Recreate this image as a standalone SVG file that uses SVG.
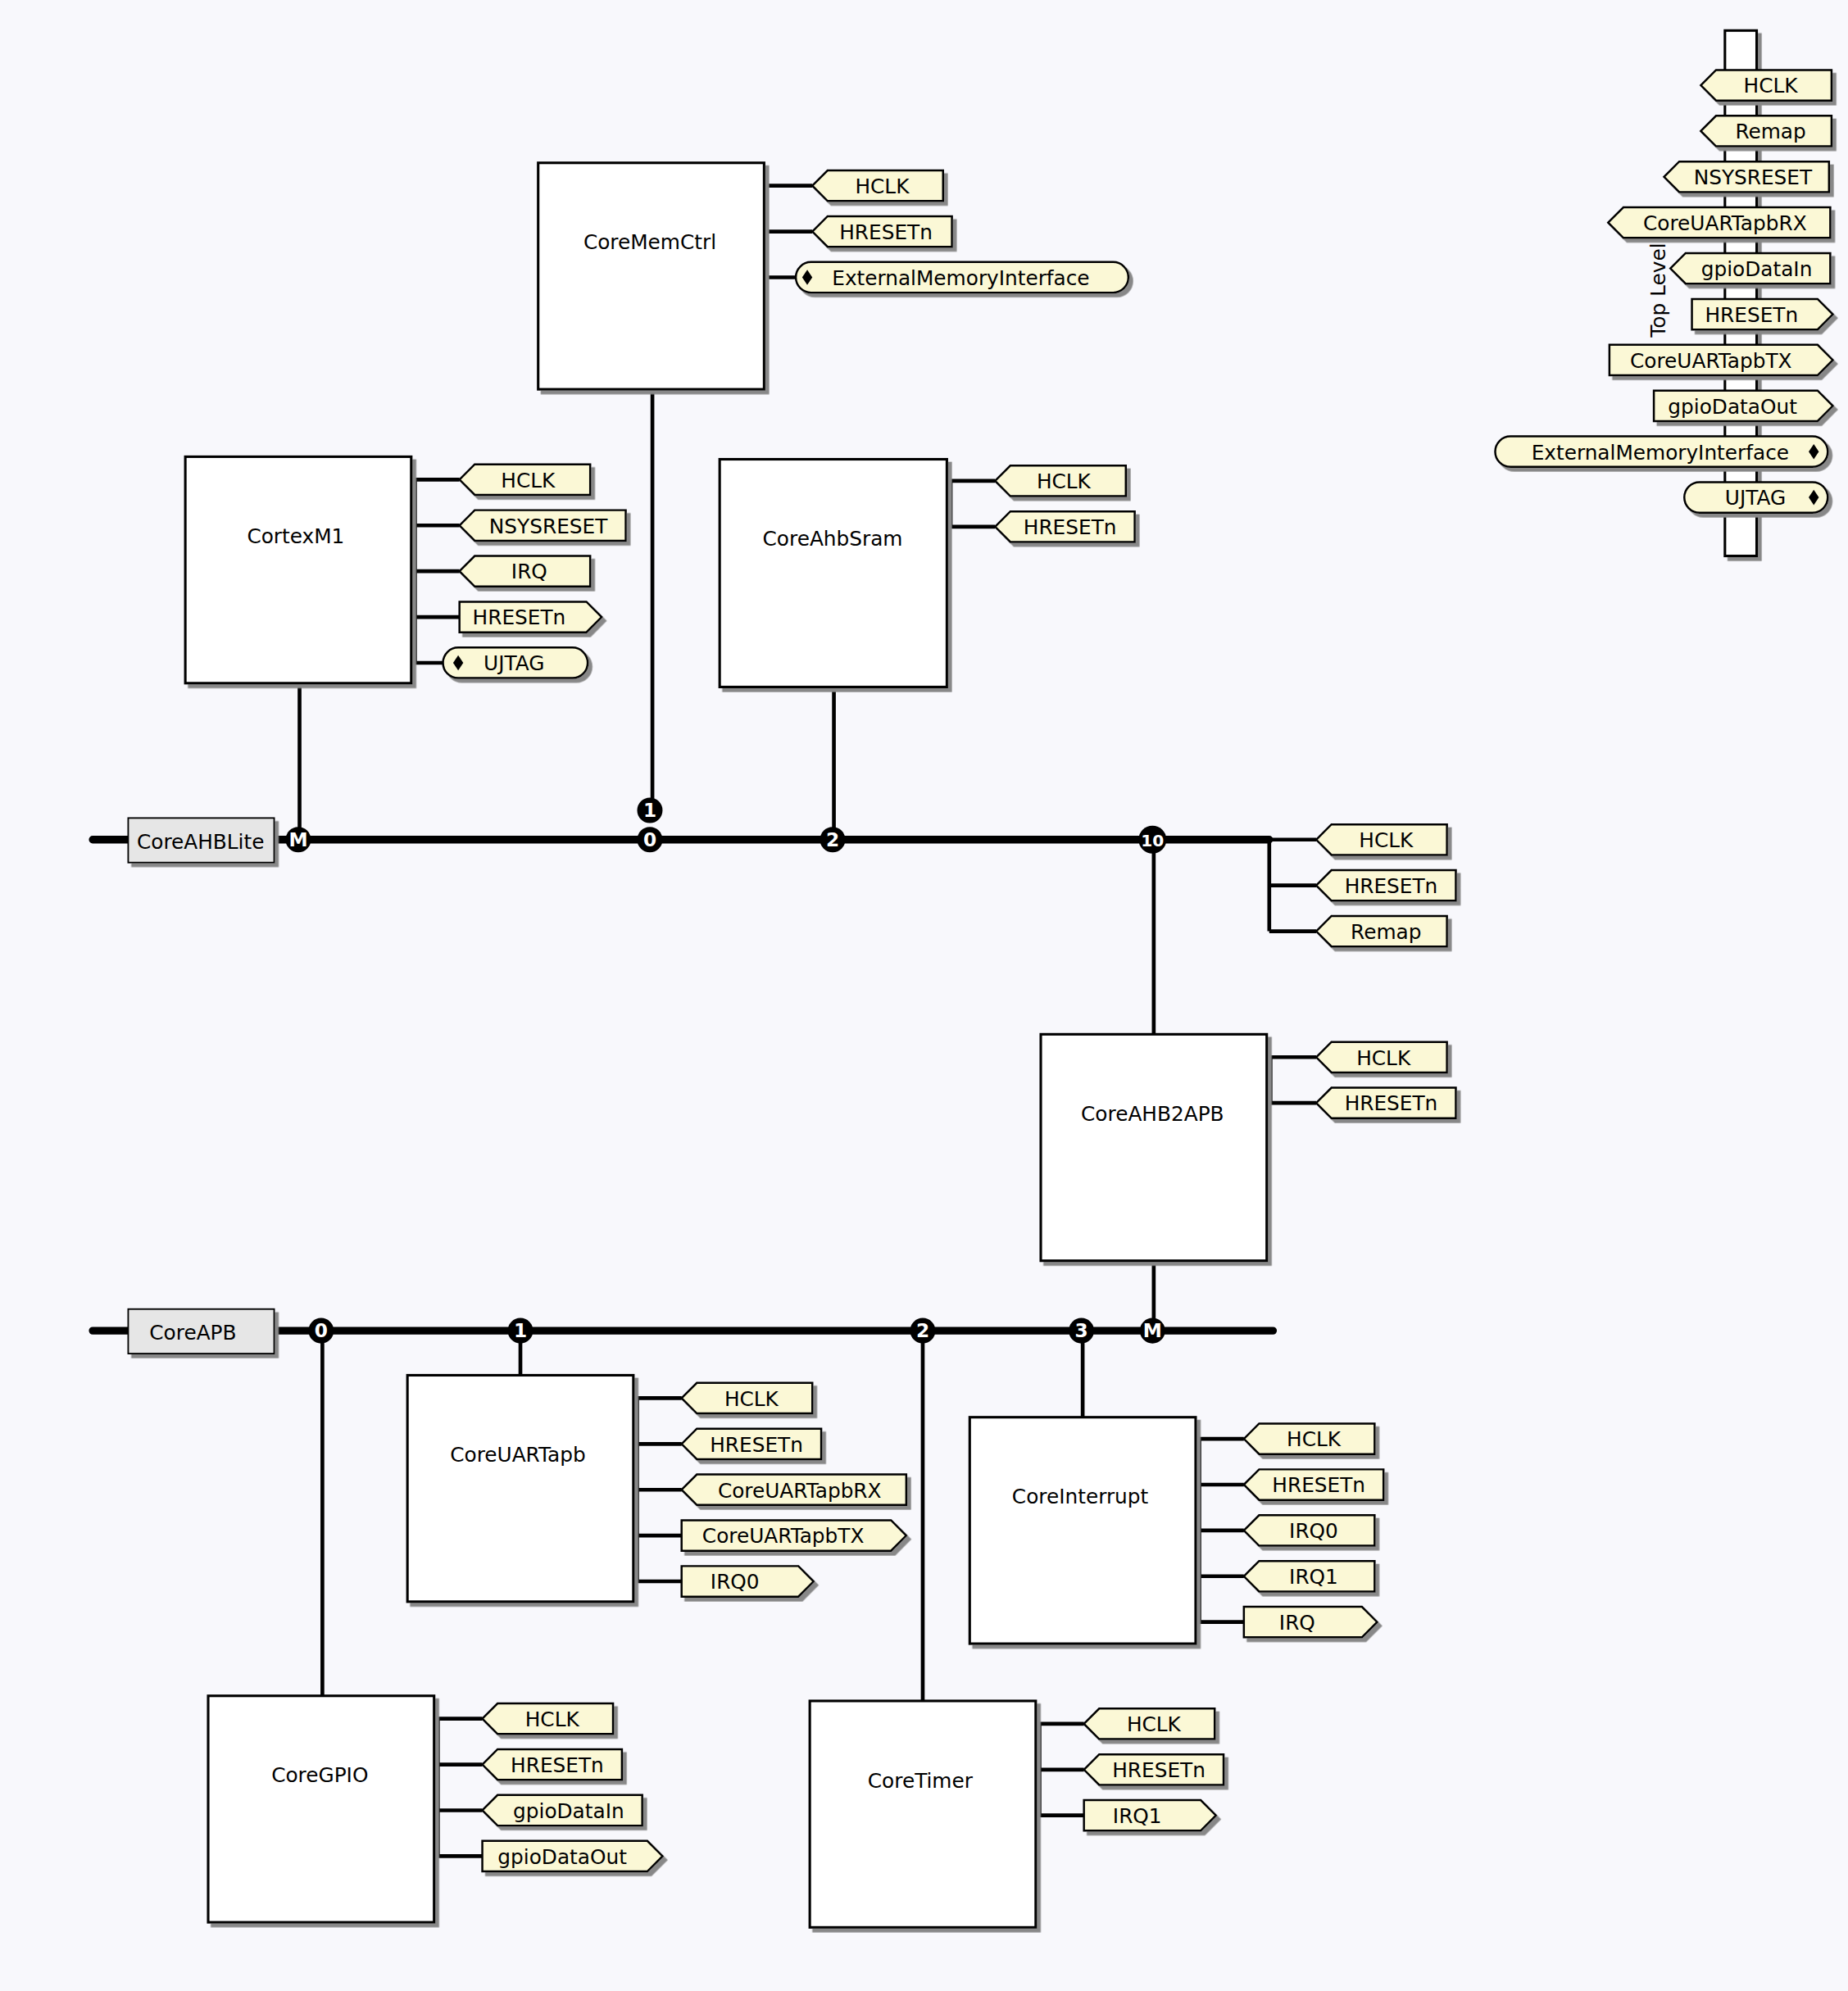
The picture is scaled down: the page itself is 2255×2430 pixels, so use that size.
<svg xmlns="http://www.w3.org/2000/svg" width="2255" height="2430" viewBox="0 0 2255 2430">
<defs>
<filter id="sh" x="-10%" y="-10%" width="130%" height="150%"><feDropShadow dx="3" dy="3" stdDeviation="0" flood-color="#888"/></filter>
</defs>
<style>
.bx{fill:#fff;stroke:#000;stroke-width:2;filter:url(#sh)}
.tg{fill:#fbf8d6;stroke:#000;stroke-width:1.6;filter:url(#sh)}
.lb{fill:#e6e6e6;stroke:#000;stroke-width:1.2;filter:url(#sh)}
.t{font-family:"DejaVu Sans",sans-serif;font-size:16px;fill:#000;text-anchor:middle}
.n{font-family:"DejaVu Sans",sans-serif;font-size:15px;fill:#fff;text-anchor:middle;font-weight:bold}
.w{stroke:#000;stroke-width:3;fill:none}
.bus{stroke:#000;stroke-width:6;fill:none;stroke-linecap:round}
</style>
<rect width="2255" height="2430" fill="#f8f8fc"/>
<g transform="scale(1.5488 1.5527)">
<g id="connectors">
<path class="bus" d="M73 660H1000M73 1046H1003"/>
<path class="w" d="M236 537V660M514 306V637M657 540V660M909 660V813M254 1046V1333M410 1046V1081M727 1046V1337M853 1046V1114M909 991V1046"/>
<path class="w" d="M604 146V218M604 146H640M604 182H640M604 218H627"/>
<path class="w" d="M327 377V521M327 377H362M327 413H362M327 449H362M327 485H362M327 521H349"/>
<path class="w" d="M749 378V414M749 378H784M749 414H784"/>
<path class="w" d="M1000 660V732M1000 660H1037M1000 696H1037M1000 732H1037"/>
<path class="w" d="M1001 831V867M1001 831H1037M1001 867H1037"/>
<path class="w" d="M502 1099V1243M502 1099H537M502 1135H537M502 1171H537M502 1207H537M502 1243H537"/>
<path class="w" d="M945 1131V1275M945 1131H980M945 1167H980M945 1203H980M945 1239H980M945 1275H980"/>
<path class="w" d="M345 1351V1459M345 1351H380M345 1387H380M345 1423H380M345 1459H380"/>
<path class="w" d="M819 1355V1427M819 1355H854M819 1391H854M819 1427H854"/>
</g>
<g id="CoreAHBLite"><rect class="lb" x="101" y="643" width="115" height="35"/><text class="t" x="158" y="667">CoreAHBLite</text>
<circle cx="235" cy="660" r="10"/><text class="n" x="235" y="665">M</text>
<circle cx="512" cy="637" r="10"/><text class="n" x="512" y="642">1</text>
<circle cx="512" cy="660" r="10"/><text class="n" x="512" y="665">0</text>
<circle cx="656" cy="660" r="10"/><text class="n" x="656" y="665">2</text>
<circle cx="908" cy="660" r="11"/><text class="n" x="908" y="665" style="font-size:13px">10</text>
<polygon class="tg" points="1037,660 1049,648 1140,648 1140,672 1049,672"/><text class="t" x="1092" y="666">HCLK</text>
<polygon class="tg" points="1037,696 1049,684 1147,684 1147,708 1049,708"/><text class="t" x="1096" y="702">HRESETn</text>
<polygon class="tg" points="1037,732 1049,720 1140,720 1140,744 1049,744"/><text class="t" x="1092" y="738">Remap</text>
</g>
<g id="CoreAPB"><rect class="lb" x="101" y="1029" width="115" height="35"/><text class="t" x="152" y="1053">CoreAPB</text>
<circle cx="253" cy="1046" r="10"/><text class="n" x="253" y="1051">0</text>
<circle cx="410" cy="1046" r="10"/><text class="n" x="410" y="1051">1</text>
<circle cx="727" cy="1046" r="10"/><text class="n" x="727" y="1051">2</text>
<circle cx="852" cy="1046" r="10"/><text class="n" x="852" y="1051">3</text>
<circle cx="908" cy="1046" r="10"/><text class="n" x="908" y="1051">M</text>
</g>
<g id="CoreMemCtrl"><rect class="bx" x="424" y="128" width="178" height="178"/><text class="t" x="512" y="196">CoreMemCtrl</text>
<polygon class="tg" points="640,146 652,134 743,134 743,158 652,158"/><text class="t" x="695" y="152">HCLK</text>
<polygon class="tg" points="640,182 652,170 750,170 750,194 652,194"/><text class="t" x="698" y="188">HRESETn</text>
<rect class="tg" x="627" y="206" width="262" height="24" rx="12"/><path d="M636 212l4 6-4 6-4-6z"/><text class="t" x="757" y="224">ExternalMemoryInterface</text>
</g>
<g id="CortexM1"><rect class="bx" x="146" y="359" width="178" height="178"/><text class="t" x="233" y="427">CortexM1</text>
<polygon class="tg" points="362,377 374,365 465,365 465,389 374,389"/><text class="t" x="416" y="383">HCLK</text>
<polygon class="tg" points="362,413 374,401 493,401 493,425 374,425"/><text class="t" x="432" y="419">NSYSRESET</text>
<polygon class="tg" points="362,449 374,437 465,437 465,461 374,461"/><text class="t" x="417" y="455">IRQ</text>
<polygon class="tg" points="362,473 462,473 474,485 462,497 362,497"/><text class="t" x="409" y="491">HRESETn</text>
<rect class="tg" x="349" y="509" width="114" height="24" rx="12"/><path d="M361 515l4 6-4 6-4-6z"/><text class="t" x="405" y="527">UJTAG</text>
</g>
<g id="CoreAhbSram"><rect class="bx" x="567" y="361" width="179" height="179"/><text class="t" x="656" y="429">CoreAhbSram</text>
<polygon class="tg" points="784,378 796,366 887,366 887,390 796,390"/><text class="t" x="838" y="384">HCLK</text>
<polygon class="tg" points="784,414 796,402 894,402 894,426 796,426"/><text class="t" x="843" y="420">HRESETn</text>
</g>
<g id="CoreAHB2APB"><rect class="bx" x="820" y="813" width="178" height="178"/><text class="t" x="908" y="881">CoreAHB2APB</text>
<polygon class="tg" points="1037,831 1049,819 1140,819 1140,843 1049,843"/><text class="t" x="1090" y="837">HCLK</text>
<polygon class="tg" points="1037,867 1049,855 1147,855 1147,879 1049,879"/><text class="t" x="1096" y="873">HRESETn</text>
</g>
<g id="CoreUARTapb"><rect class="bx" x="321" y="1081" width="178" height="178"/><text class="t" x="408" y="1149">CoreUARTapb</text>
<polygon class="tg" points="537,1099 549,1087 640,1087 640,1111 549,1111"/><text class="t" x="592" y="1105">HCLK</text>
<polygon class="tg" points="537,1135 549,1123 647,1123 647,1147 549,1147"/><text class="t" x="596" y="1141">HRESETn</text>
<polygon class="tg" points="537,1171 549,1159 714,1159 714,1183 549,1183"/><text class="t" x="630" y="1177">CoreUARTapbRX</text>
<polygon class="tg" points="537,1195 702,1195 714,1207 702,1219 537,1219"/><text class="t" x="617" y="1213">CoreUARTapbTX</text>
<polygon class="tg" points="537,1231 629,1231 641,1243 629,1255 537,1255"/><text class="t" x="579" y="1249">IRQ0</text>
</g>
<g id="CoreInterrupt"><rect class="bx" x="764" y="1114" width="178" height="178"/><text class="t" x="851" y="1182">CoreInterrupt</text>
<polygon class="tg" points="980,1131 992,1119 1083,1119 1083,1143 992,1143"/><text class="t" x="1035" y="1137">HCLK</text>
<polygon class="tg" points="980,1167 992,1155 1090,1155 1090,1179 992,1179"/><text class="t" x="1039" y="1173">HRESETn</text>
<polygon class="tg" points="980,1203 992,1191 1083,1191 1083,1215 992,1215"/><text class="t" x="1035" y="1209">IRQ0</text>
<polygon class="tg" points="980,1239 992,1227 1083,1227 1083,1251 992,1251"/><text class="t" x="1035" y="1245">IRQ1</text>
<polygon class="tg" points="980,1263 1073,1263 1085,1275 1073,1287 980,1287"/><text class="t" x="1022" y="1281">IRQ</text>
</g>
<g id="CoreGPIO"><rect class="bx" x="164" y="1333" width="178" height="178"/><text class="t" x="252" y="1401">CoreGPIO</text>
<polygon class="tg" points="380,1351 392,1339 483,1339 483,1363 392,1363"/><text class="t" x="435" y="1357">HCLK</text>
<polygon class="tg" points="380,1387 392,1375 490,1375 490,1399 392,1399"/><text class="t" x="439" y="1393">HRESETn</text>
<polygon class="tg" points="380,1423 392,1411 506,1411 506,1435 392,1435"/><text class="t" x="448" y="1429">gpioDataIn</text>
<polygon class="tg" points="380,1447 510,1447 522,1459 510,1471 380,1471"/><text class="t" x="443" y="1465">gpioDataOut</text>
</g>
<g id="CoreTimer"><rect class="bx" x="638" y="1337" width="178" height="178"/><text class="t" x="725" y="1405">CoreTimer</text>
<polygon class="tg" points="854,1355 866,1343 957,1343 957,1367 866,1367"/><text class="t" x="909" y="1361">HCLK</text>
<polygon class="tg" points="854,1391 866,1379 964,1379 964,1403 866,1403"/><text class="t" x="913" y="1397">HRESETn</text>
<polygon class="tg" points="854,1415 946,1415 958,1427 946,1439 854,1439"/><text class="t" x="896" y="1433">IRQ1</text>
</g>
<g id="TopLevel"><rect class="bx" x="1359" y="24" width="25" height="413"/>
<text class="t" transform="translate(1312,228) rotate(-90)">Top Level</text>
<polygon class="tg" points="1340,67 1352,55 1443,55 1443,79 1352,79"/><text class="t" x="1395" y="73">HCLK</text>
<polygon class="tg" points="1340,103 1352,91 1443,91 1443,115 1352,115"/><text class="t" x="1395" y="109">Remap</text>
<polygon class="tg" points="1311,139 1323,127 1441,127 1441,151 1323,151"/><text class="t" x="1381" y="145">NSYSRESET</text>
<polygon class="tg" points="1267,175 1279,163 1442,163 1442,187 1279,187"/><text class="t" x="1359" y="181">CoreUARTapbRX</text>
<polygon class="tg" points="1316,211 1328,199 1442,199 1442,223 1328,223"/><text class="t" x="1384" y="217">gpioDataIn</text>
<polygon class="tg" points="1333,235 1432,235 1444,247 1432,259 1333,259"/><text class="t" x="1380" y="253">HRESETn</text>
<polygon class="tg" points="1268,271 1432,271 1444,283 1432,295 1268,295"/><text class="t" x="1348" y="289">CoreUARTapbTX</text>
<polygon class="tg" points="1303,307 1432,307 1444,319 1432,331 1303,331"/><text class="t" x="1365" y="325">gpioDataOut</text>
<rect class="tg" x="1178" y="343" width="262" height="24" rx="12"/><path d="M1429 349l4 6-4 6-4-6z"/><text class="t" x="1308" y="361">ExternalMemoryInterface</text>
<rect class="tg" x="1327" y="379" width="113" height="24" rx="12"/><path d="M1429 385l4 6-4 6-4-6z"/><text class="t" x="1383" y="397">UJTAG</text>
</g>
</g>
</svg>
